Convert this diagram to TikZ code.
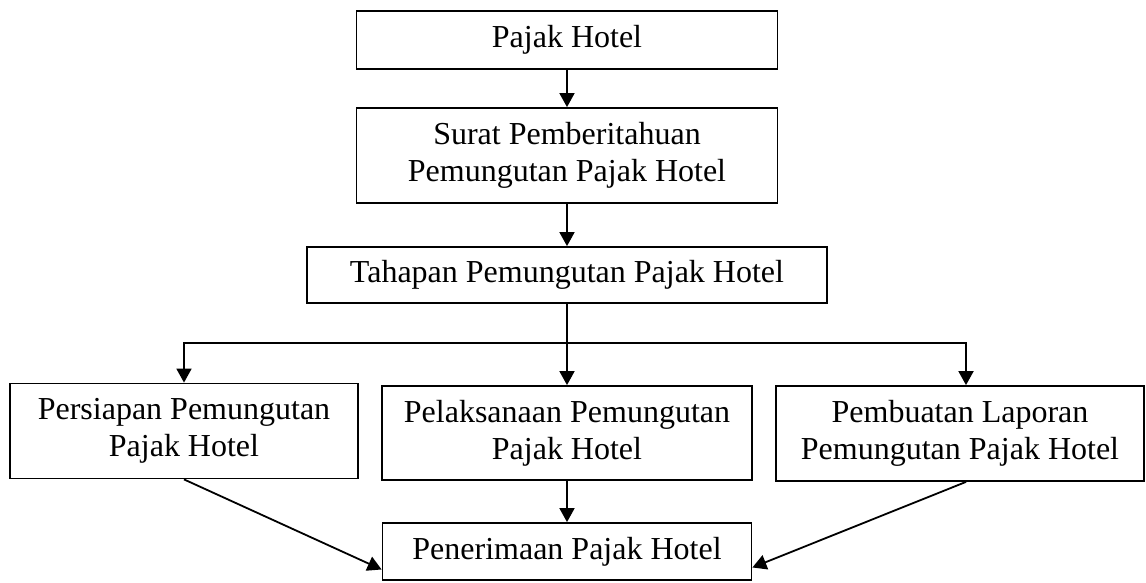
\documentclass[tikz,border=0pt]{standalone}
\usepackage{fontspec}
\setmainfont{Liberation Serif}
\usetikzlibrary{arrows.meta,calc}
\begin{document}
\begin{tikzpicture}[x=0.5pt,y=-0.5pt,
  box/.style={draw,line width=0.9pt,rectangle,align=center,inner sep=0pt,font=\fontsize{16}{18.5}\selectfont},
  link/.style={line width=0.9pt},
  arr/.style={line width=0.9pt,-{Triangle[length=7pt,width=7.5pt]}}]
\useasboundingbox (0,0) rectangle (1146,583);
\node[box,minimum width=210.5pt,minimum height=29pt] (b1) at (567,40) {Pajak Hotel};
\node[box,minimum width=210.5pt,minimum height=47.5pt] (b2) at (567,155.5) {Surat Pemberitahuan\\Pemungutan Pajak Hotel};
\node[box,minimum width=260pt,minimum height=28pt] (b3) at (567,275) {Tahapan Pemungutan Pajak Hotel};
\node[box,minimum width=174pt,minimum height=47.5pt] (b4) at (184,431) {Persiapan Pemungutan\\Pajak Hotel};
\node[box,minimum width=185pt,minimum height=47pt] (b5) at (567,433) {Pelaksanaan Pemungutan\\Pajak Hotel};
\node[box,minimum width=184pt,minimum height=47.5pt] (b6) at (960,433.5) {Pembuatan Laporan\\Pemungutan Pajak Hotel};
\node[box,minimum width=184.5pt,minimum height=28.5pt] (b7) at (567,551.5) {Penerimaan Pajak Hotel};
\coordinate (j) at (567,343);
\draw[arr] (b1) -- (b2);
\draw[arr] (b2) -- (b3);
\draw[link] (b3.south) -- (j);
\draw[arr] (j) -| (b4.north);
\draw[arr] (j) -- (b5.north);
\draw[arr] (j) -| ([xshift=3pt]b6.north);
\draw[arr] (b5) -- (b7);
\draw[arr] (b4.south) -- ([yshift=-9pt]b7.west);
\draw[arr] ([xshift=3pt]b6.south) -- ([yshift=-8pt]b7.east);
\end{tikzpicture}
\end{document}
